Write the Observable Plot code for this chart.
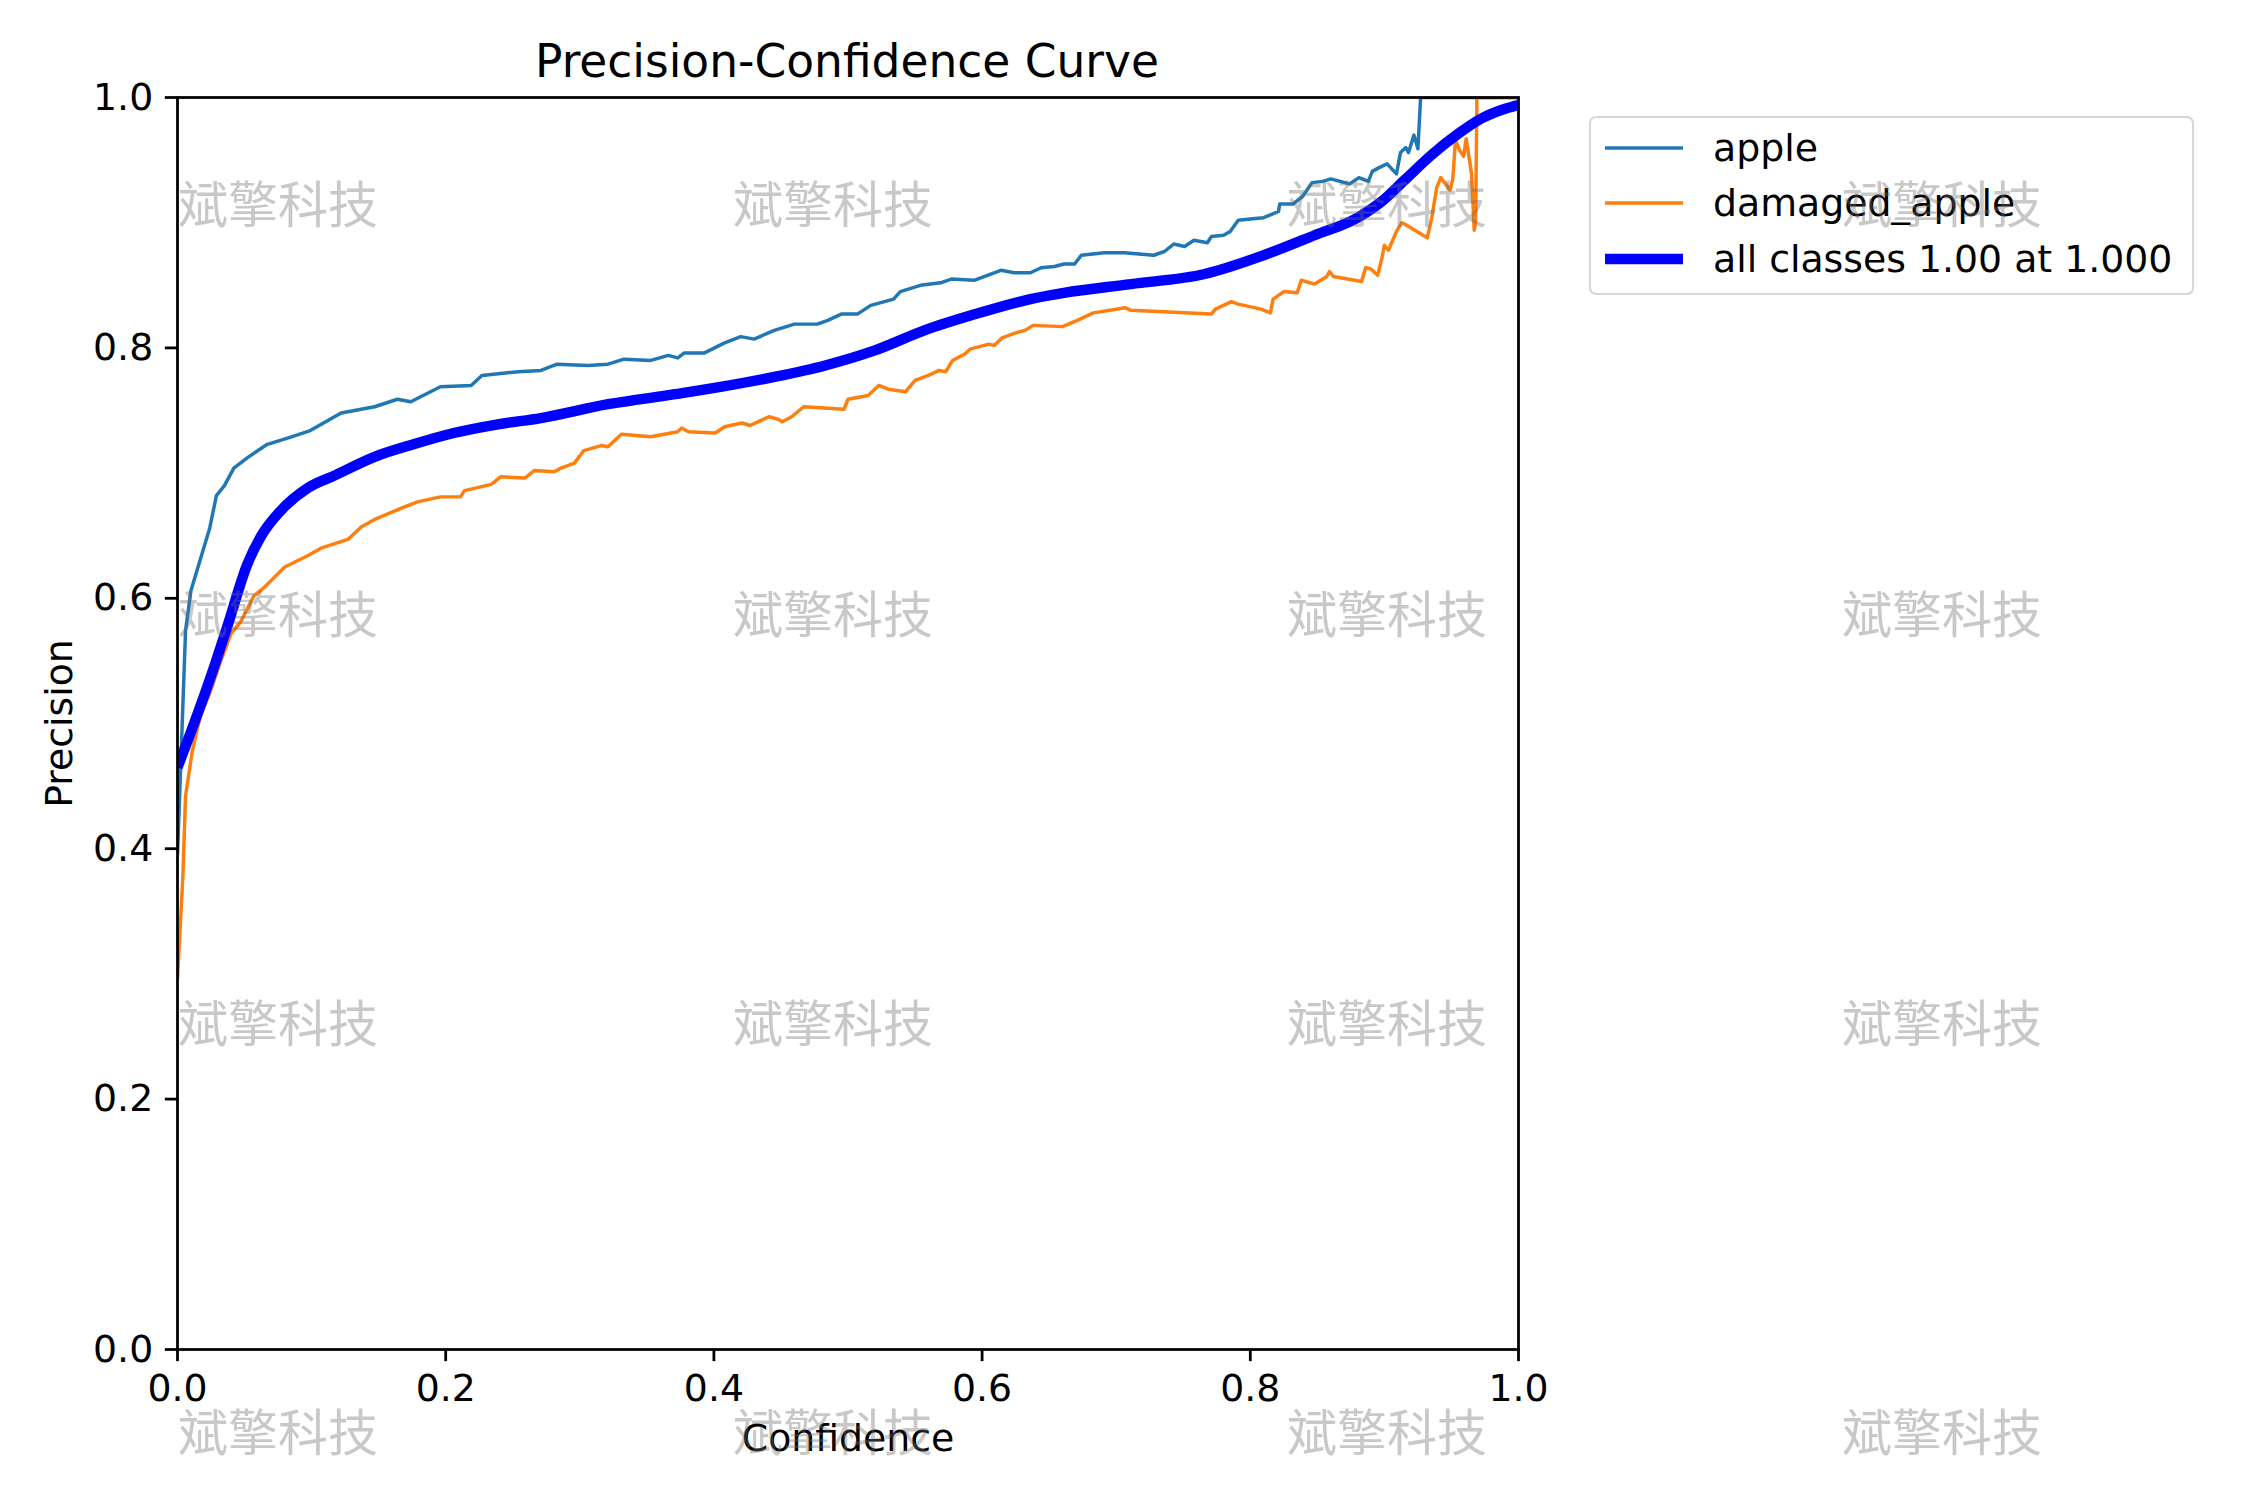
<!DOCTYPE html>
<html>
<head>
<meta charset="utf-8">
<script src="https://cdn.jsdelivr.net/npm/d3@7"></script>
<script src="https://cdn.jsdelivr.net/npm/@observablehq/plot@0.6"></script>
<style>
  html, body { margin: 0; padding: 0; background: #fff; }
  #wrap { position: relative; width: 2250px; height: 1500px; overflow: hidden; background: #fff; }
  #chart { position: absolute; left: 0; top: 0; }
  #title { position: absolute; left: 847px; top: 39px; transform: translateX(-50%); font-family: "DejaVu Sans"; font-size: 45.5px; line-height: 1; white-space: nowrap; color: #000; }
  #legend { position: absolute; left: 1589px; top: 116px; border: 2.8px solid rgba(204,204,204,0.8); border-radius: 7px; background: rgba(255,255,255,0.8); padding: 11px 20px 15px 14px; font-family: "DejaVu Sans"; font-size: 37.8px; color: #000; }
  .row { display: flex; align-items: center; height: 38px; white-space: nowrap; }
  .row + .row { margin-top: 17.4px; }
  .row svg { margin-right: 30px; flex: none; }
  #wm { position: absolute; left: 0; top: 0; width: 2250px; height: 1500px; pointer-events: none; }
  .wm { position: absolute; font-family: "Noto Sans CJK SC"; font-size: 50px; line-height: 1; color: rgba(110,110,110,0.38); white-space: nowrap; }
</style>
</head>
<body>
<div id="wrap">
  <div id="chart"></div>
  <div id="title"></div>
  <div id="legend"></div>
  <div id="wm"></div>
</div>
<script>
// ---- data ----
const titleText = "Precision-Confidence Curve";
const xLabel = "Confidence";
const yLabel = "Precision";
const tickValues = [0, 0.2, 0.4, 0.6, 0.8, 1.0];
const seriesNames = ["apple", "damaged_apple", "all classes 1.00 at 1.000"];
const seriesColors = ["#1f77b4", "#ff7f0e", "#0000ff"];
const watermarkText = "斌擎科技";

const appleConf = [0.000,0.006,0.010,0.017,0.024,0.029,0.035,0.042,0.053,0.067,0.085,0.099,0.122,0.147,0.164,0.174,0.196,0.219,0.227,0.254,0.271,0.283,0.306,0.321,0.333,0.353,0.366,0.373,0.378,0.393,0.408,0.420,0.430,0.445,0.460,0.477,0.485,0.495,0.507,0.517,0.534,0.539,0.554,0.569,0.577,0.594,0.614,0.624,0.636,0.644,0.654,0.661,0.669,0.674,0.691,0.706,0.728,0.736,0.743,0.751,0.758,0.768,0.771,0.780,0.785,0.791,0.800,0.810,0.821,0.822,0.832,0.839,0.846,0.854,0.860,0.874,0.881,0.888,0.891,0.896,0.902,0.909,0.912,0.916,0.918,0.922,0.925,0.927,1.000];
const applePrec = [0.395,0.574,0.606,0.631,0.656,0.682,0.690,0.704,0.713,0.723,0.729,0.734,0.748,0.753,0.759,0.757,0.769,0.770,0.778,0.781,0.782,0.787,0.786,0.787,0.791,0.790,0.794,0.792,0.796,0.796,0.804,0.809,0.807,0.814,0.819,0.819,0.822,0.827,0.827,0.834,0.839,0.845,0.850,0.852,0.855,0.854,0.862,0.860,0.860,0.864,0.865,0.867,0.867,0.874,0.876,0.876,0.874,0.877,0.883,0.881,0.886,0.884,0.889,0.890,0.893,0.902,0.903,0.904,0.909,0.915,0.915,0.921,0.932,0.933,0.935,0.931,0.936,0.933,0.941,0.944,0.947,0.939,0.956,0.960,0.956,0.970,0.959,1.000,1.000];

const damagedConf = [0.000,0.004,0.006,0.011,0.017,0.024,0.032,0.040,0.047,0.057,0.065,0.080,0.097,0.107,0.127,0.137,0.147,0.167,0.179,0.196,0.211,0.214,0.234,0.241,0.259,0.266,0.281,0.286,0.296,0.303,0.316,0.321,0.331,0.353,0.373,0.376,0.381,0.401,0.408,0.421,0.427,0.441,0.448,0.451,0.458,0.467,0.497,0.500,0.515,0.523,0.530,0.543,0.550,0.560,0.568,0.573,0.578,0.587,0.591,0.605,0.609,0.615,0.625,0.632,0.638,0.660,0.671,0.683,0.707,0.711,0.771,0.774,0.786,0.791,0.808,0.815,0.817,0.825,0.835,0.838,0.848,0.857,0.859,0.862,0.883,0.886,0.890,0.895,0.898,0.900,0.903,0.909,0.913,0.915,0.932,0.935,0.939,0.942,0.949,0.951,0.953,0.956,0.959,0.961,0.965,0.967,0.968,0.969,1.000];
const damagedPrec = [0.296,0.378,0.442,0.478,0.506,0.524,0.549,0.572,0.581,0.602,0.609,0.625,0.634,0.640,0.647,0.657,0.663,0.672,0.677,0.681,0.681,0.686,0.691,0.697,0.696,0.702,0.701,0.704,0.708,0.718,0.722,0.721,0.731,0.729,0.733,0.736,0.733,0.732,0.737,0.740,0.738,0.745,0.743,0.741,0.745,0.753,0.751,0.759,0.762,0.770,0.767,0.765,0.774,0.778,0.782,0.781,0.790,0.795,0.799,0.803,0.802,0.808,0.812,0.814,0.818,0.817,0.822,0.828,0.832,0.830,0.827,0.831,0.837,0.835,0.831,0.828,0.839,0.845,0.844,0.854,0.851,0.857,0.861,0.857,0.853,0.864,0.863,0.858,0.871,0.882,0.878,0.893,0.900,0.899,0.888,0.902,0.928,0.936,0.926,0.935,0.966,0.958,0.953,0.967,0.939,0.894,0.900,1.000,1.000];

const allConf = [0.000,0.012,0.025,0.037,0.052,0.062,0.077,0.097,0.117,0.147,0.176,0.206,0.239,0.271,0.321,0.371,0.406,0.446,0.483,0.520,0.557,0.595,0.636,0.661,0.711,0.766,0.810,0.848,0.880,0.898,0.915,0.935,0.955,0.972,0.990,1.000];
const allPrec = [0.465,0.499,0.538,0.577,0.627,0.649,0.670,0.688,0.698,0.713,0.723,0.732,0.739,0.744,0.755,0.763,0.769,0.777,0.786,0.798,0.814,0.827,0.839,0.844,0.851,0.859,0.874,0.890,0.904,0.917,0.934,0.954,0.971,0.983,0.991,0.994];

// ---- build ----
const toRows = (cs, ps) => cs.map((c, i) => ({conf: c, prec: ps[i]}));
const apple = toRows(appleConf, applePrec);
const damaged = toRows(damagedConf, damagedPrec);
const allCls = toRows(allConf, allPrec);

const PT = 250 / 72; // px per point at 250 dpi
const fmt = d3.format(".1f");

const chart = Plot.plot({
  width: 2250,
  height: 1500,
  marginLeft: 177,
  marginRight: 732,
  marginTop: 97,
  marginBottom: 151,
  style: {fontFamily: "DejaVu Sans", fontSize: "37.8px", background: "transparent", color: "#000"},
  x: {domain: [0, 1]},
  y: {domain: [0, 1]},
  marks: [
    Plot.line(apple, {x: "conf", y: "prec", stroke: seriesColors[0], strokeWidth: 1 * PT, clip: true, strokeLinecap: "butt"}),
    Plot.line(damaged, {x: "conf", y: "prec", stroke: seriesColors[1], strokeWidth: 1 * PT, clip: true, strokeLinecap: "butt"}),
    Plot.line(allCls, {x: "conf", y: "prec", stroke: seriesColors[2], strokeWidth: 3 * PT, curve: "monotone-x", clip: true, strokeLinecap: "butt"}),
    Plot.frame({stroke: "#000", strokeWidth: 0.8 * PT}),
    Plot.axisX({ticks: tickValues, tickFormat: fmt, tickSize: 3.5 * PT, tickPadding: 3.5 * PT, strokeWidth: 0.8 * PT, label: null}),
    Plot.axisY({ticks: tickValues, tickFormat: fmt, tickSize: 3.5 * PT, tickPadding: 3.5 * PT, strokeWidth: 0.8 * PT, label: null}),
    Plot.text([xLabel], {frameAnchor: "bottom", dy: 89, lineAnchor: "middle", textAnchor: "middle", text: d => d}),
    Plot.text([yLabel], {frameAnchor: "left", dx: -118, rotate: -90, lineAnchor: "middle", textAnchor: "middle", text: d => d})
  ]
});
document.getElementById("chart").appendChild(chart);

document.getElementById("title").textContent = titleText;

// legend
const legend = document.getElementById("legend");
seriesNames.forEach((name, i) => {
  const row = document.createElement("div");
  row.className = "row";
  const w = i === 2 ? 3 * PT : 1 * PT;
  row.innerHTML = `<svg width="78" height="38"><line x1="0" x2="78" y1="19" y2="19" stroke="${seriesColors[i]}" stroke-width="${w}"/></svg><span>${name}</span>`;
  legend.appendChild(row);
});

// watermark overlay
const wmCols = [178, 733, 1287, 1842];
const wmRows = [204, 614, 1023, 1432];
const wm = document.getElementById("wm");
wmRows.forEach(r => wmCols.forEach(c => {
  const d = document.createElement("div");
  d.className = "wm";
  d.style.left = c + "px";
  d.style.top = (r - 28) + "px";
  d.textContent = watermarkText;
  wm.appendChild(d);
}));
</script>
</body>
</html>
